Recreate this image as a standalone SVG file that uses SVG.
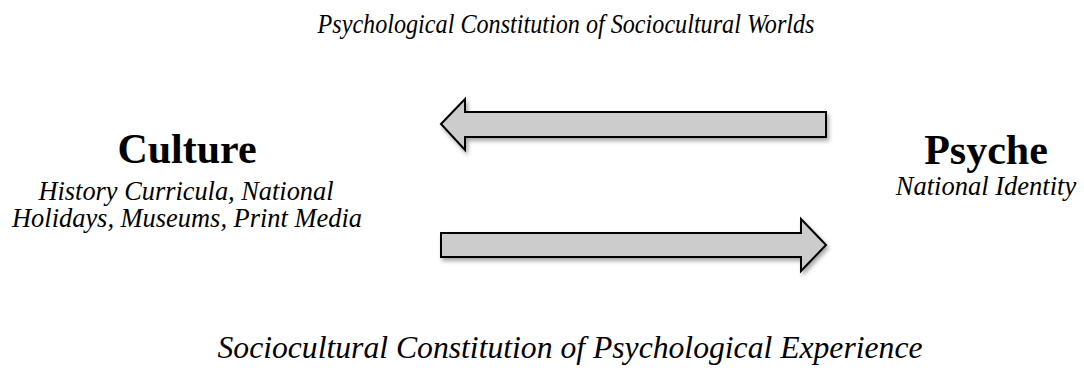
<svg xmlns="http://www.w3.org/2000/svg" width="1084" height="377" viewBox="0 0 1084 377">
<style>
.t{font-family:"Liberation Serif","Times New Roman",serif;fill:#000}
.it{font-style:italic}
.h{font-weight:bold;font-size:42px}
.s{font-size:26.5px}
.cap{font-size:28px}
.cap2{font-size:32px}
.arr{fill:#cccccc;stroke:#000;stroke-width:2;stroke-linejoin:miter}
</style>
<defs>
<filter id="sh" x="-5%" y="-30%" width="115%" height="180%">
<feGaussianBlur in="SourceAlpha" stdDeviation="2"/>
<feOffset dx="2" dy="3" result="b"/>
<feComponentTransfer><feFuncA type="linear" slope="0.35"/></feComponentTransfer>
<feMerge><feMergeNode/><feMergeNode in="SourceGraphic"/></feMerge>
</filter>
</defs>
<rect width="1084" height="377" fill="#fff"/>
<g id="culture">
<text class="t h" x="187" y="163" text-anchor="middle">Culture</text>
<text class="t it s" x="186" y="200" text-anchor="middle" textLength="295" lengthAdjust="spacingAndGlyphs">History Curricula, National</text>
<text class="t it s" x="187" y="227" text-anchor="middle" textLength="350" lengthAdjust="spacingAndGlyphs">Holidays, Museums, Print Media</text>
</g>
<g id="psyche">
<text class="t h" x="986" y="164" text-anchor="middle">Psyche</text>
<text class="t it s" x="986" y="195" text-anchor="middle">National Identity</text>
</g>
<g id="connectors">
<polygon class="arr" filter="url(#sh)" points="441,124 465,99 465,112 826,112 826,137 465,137 465,150"/>
<polygon class="arr" filter="url(#sh)" points="826,245 801,219 801,233 441,233 441,257 801,257 801,271"/>
<text class="t it cap" x="566" y="33" text-anchor="middle" textLength="497" lengthAdjust="spacingAndGlyphs">Psychological Constitution of Sociocultural Worlds</text>
<text class="t it cap2" x="570" y="358" text-anchor="middle" textLength="705" lengthAdjust="spacingAndGlyphs">Sociocultural Constitution of Psychological Experience</text>
</g>
</svg>
